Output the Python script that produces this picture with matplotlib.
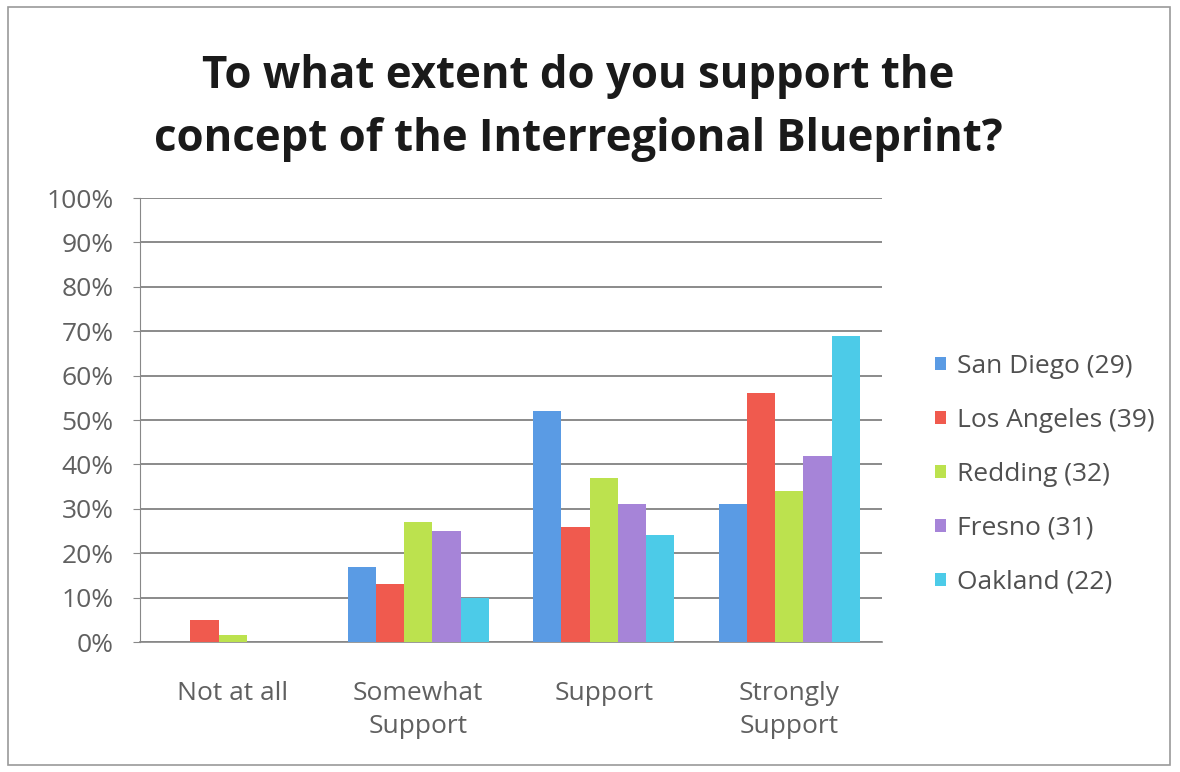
import matplotlib.pyplot as plt
import numpy as np
from matplotlib.patches import Rectangle

categories = ['Not at all', 'Somewhat\nSupport', 'Support', 'Strongly\nSupport']
regions = ['San Diego (29)', 'Los Angeles (39)', 'Redding (32)', 'Fresno (31)', 'Oakland (22)']
san_diego = [0.0, 17.0, 52.0, 31.0]
los_angeles = [5.0, 13.0, 26.0, 56.0]
redding = [1.5, 27.0, 37.0, 34.0]
fresno = [0.0, 25.0, 31.0, 42.0]
oakland = [0.0, 10.0, 24.0, 69.0]
y_ticks = [0, 10, 20, 30, 40, 50, 60, 70, 80, 90, 100]

series = [san_diego, los_angeles, redding, fresno, oakland]
colors = ['#5a9be4', '#f05a4e', '#bce24e', '#a684d8', '#4ccbe8']

plt.rcParams['font.family'] = ['Open Sans', 'DejaVu Sans']

fig = plt.figure(figsize=(11.8, 7.72), dpi=100)
fig.patch.set_facecolor('white')

# outer chart frame
fig.patches.append(Rectangle((8 / 1180, 7 / 772), 1162 / 1180, 758 / 772,
                             transform=fig.transFigure, fill=False,
                             edgecolor='#9a9a9a', linewidth=1.2))

ax = fig.add_axes([140 / 1180, 130 / 772, 742 / 1180, 444 / 772])

x = np.arange(len(categories))
group = 0.76
w = group / len(series)
for i, (vals, c, name) in enumerate(zip(series, colors, regions)):
    ax.bar(x - group / 2 + w * (i + 0.5), vals, width=w, color=c,
           label=name, zorder=3)

ax.set_xlim(-0.5, len(categories) - 0.5)
ax.set_ylim(0, 100)
ax.set_yticks(y_ticks)
ax.set_yticklabels([f'{t}%' for t in y_ticks], color='#606060', fontsize=19)
ax.set_xticks(x)
ax.set_xticklabels(categories, color='#606060', fontsize=19, linespacing=1.45)
ax.tick_params(axis='x', length=0, pad=28)
ax.tick_params(axis='y', length=5, color='#888888', pad=14)
ax.grid(axis='y', color='#777777', linewidth=1.2, zorder=0)
for s in ['top', 'right']:
    ax.spines[s].set_visible(False)
ax.spines['left'].set_color('#888888')
ax.spines['bottom'].set_color('#888888')
ax.spines['bottom'].set_linewidth(1.2)

fig.text(0.49, 0.86, 'To what extent do you support the\nconcept of the Interregional Blueprint?',
         ha='center', va='center', fontsize=31.5, fontweight='bold',
         color='#1a1a1a', linespacing=1.55)

leg = ax.legend(loc='center left', bbox_to_anchor=(1.04, 0.378), frameon=False,
                fontsize=19, handlelength=0.4, handleheight=0.4,
                handletextpad=0.4, labelspacing=1.1, labelcolor='#505050')

fig.savefig('out.png', dpi=100)
